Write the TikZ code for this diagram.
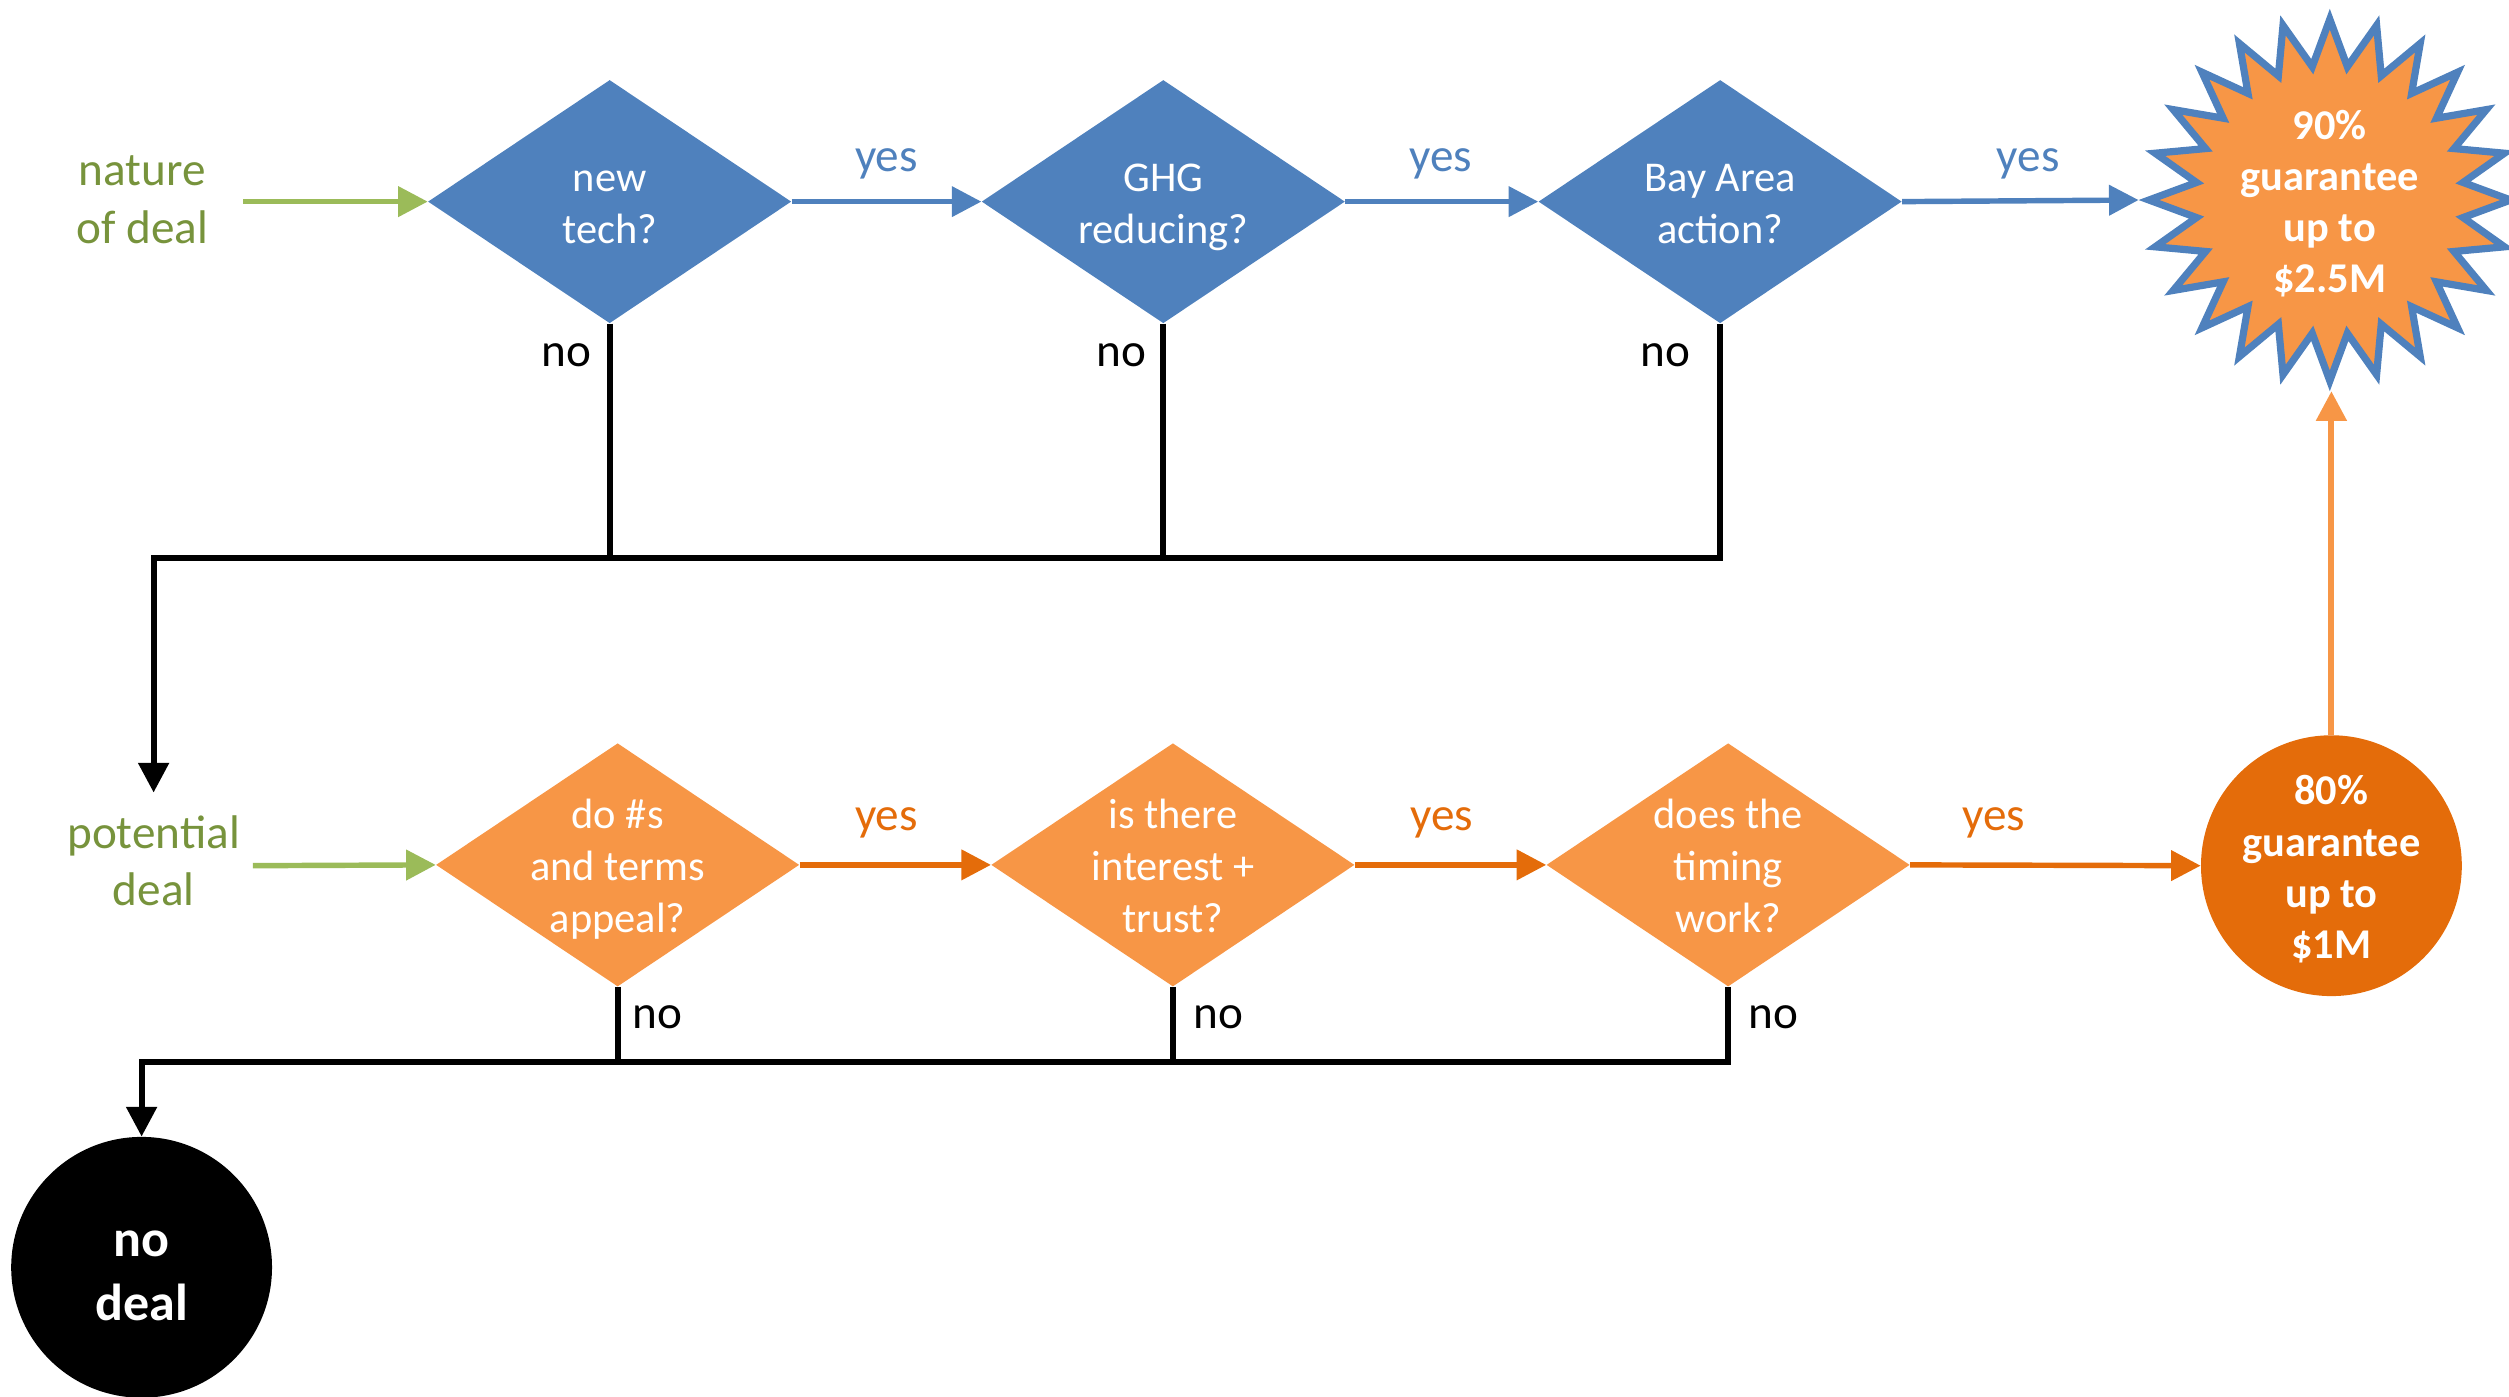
\documentclass[tikz,border=0pt]{standalone}
\usepackage{fontspec}
\setmainfont{Carlito}
\usetikzlibrary{shapes.geometric,arrows.meta}
\definecolor{cblue}{HTML}{4F81BD}
\definecolor{corange}{HTML}{F79646}
\definecolor{cdark}{HTML}{E46C0A}
\definecolor{cgreen}{HTML}{9BBB59}
\definecolor{cgtext}{HTML}{77933C}
\newcommand\fsz[2]{\fontsize{#1}{#2}\selectfont}
\begin{document}
\begin{tikzpicture}[x=1pt,y=-1pt,
  dia/.style={diamond, minimum width=227pt, minimum height=152pt, inner sep=0pt},
  bdia/.style={dia, fill=cblue},
  odia/.style={dia, fill=corange},
  qtext/.style={text=white, align=center, font=\fsz{26.5}{32.5}, inner sep=0pt, anchor=base},
  wbold/.style={text=white, align=center, font=\fsz{26.5}{32}\bfseries, inner sep=0pt, anchor=base},
  lbl/.style={font=\fsz{29.5}{36}, inner sep=0pt, anchor=base},
  gtext/.style={lbl, text=cgtext, align=center},
  tip/.style={-{Triangle[length=18.5pt,width=18.5pt]}},
  garrow/.style={tip, draw=cgreen, line width=3.4pt},
  barrow/.style={tip, draw=cblue, line width=3.4pt},
  oarrow/.style={tip, draw=cdark, line width=3.4pt},
  uparrow/.style={tip, draw=corange, line width=3.75pt},
  nline/.style={draw=black, line width=3.75pt},
]
\useasboundingbox (0,0) rectangle (1568,873);

% ---- top row ----
\node[gtext] (nd) at (89,152) {nature\\of deal};
\node[bdia] (d1) at (381,126) {};
\node[bdia] (d2) at (727,126) {};
\node[bdia] (d3) at (1075,126) {};
\node[qtext, yshift=-26pt] at (d1) {new\\tech?};
\node[qtext, yshift=-26pt] at (d2) {GHG\\reducing?};
\node[qtext, yshift=-26pt] at (d3) {Bay Area\\action?};

\node[star, star points=24, star point ratio=1.345, minimum size=226pt,
      inner sep=0pt, fill=corange, draw=cblue, line width=4.5pt] (star) at (1456,125) {};
\node[wbold, yshift=-58pt] at (star) {90\%\\guarantee\\up to\\\$2.5M};

% ---- bottom row ----
\node[gtext, inner ysep=14pt] (pd) at (96,566) {potential\\deal};
\node[odia] (d4) at (386,540.5) {};
\node[odia] (d5) at (733,540.5) {};
\node[odia] (d6) at (1080,540.5) {};
\node[qtext, yshift=-42pt] at (d4) {do \#s\\and terms\\appeal?};
\node[qtext, yshift=-42pt] at (d5) {is there\\interest +\\trust?};
\node[qtext, yshift=-42pt] at (d6) {does the\\timing\\work?};

\node[circle, fill=cdark, minimum size=163pt, inner sep=0pt] (c80) at (1457,541) {};
\node[wbold, yshift=-58pt] at (c80) {80\%\\guarantee\\up to\\\$1M};

\node[circle, fill=black, minimum size=163pt, inner sep=0pt] (nodeal) at (88.5,792) {};
\node[text=white, font=\fsz{32.5}{40}\bfseries, align=center, inner sep=0pt, anchor=base, yshift=-33pt] at (nodeal) {no\\deal};

% ---- helper coordinates ----
\coordinate (s1) at (152,126);
\coordinate (s2) at (158,541);
\coordinate (j1) at (96,349);
\coordinate (j2) at (88.5,663.7);

% ---- connectors top ----
\draw[garrow] (s1) -- (d1.west);
\draw[barrow] (d1.east) -- (d2.west);
\draw[barrow] (d2.east) -- (d3.west);
\draw[barrow] (d3.east) -- (star.west);
\draw[nline] (d1.south) -- (d1.south |- j1);
\draw[nline] (d2.south) -- (d2.south |- j1);
\draw[nline, tip] (d3.south) |- (j1) -- (pd.north);

% ---- connectors bottom ----
\draw[garrow] (s2) -- (d4.west);
\draw[oarrow] (d4.east) -- (d5.west);
\draw[oarrow] (d5.east) -- (d6.west);
\draw[oarrow] (d6.east) -- (c80.west);
\draw[uparrow] (c80.north) -- (c80.north |- star.south);
\draw[nline] (d4.south) -- (d4.south |- j2);
\draw[nline] (d5.south) -- (d5.south |- j2);
\draw[nline, tip] (d6.south) |- (j2) -- (nodeal.north);

% ---- labels ----
\node[lbl, text=cblue] at (554,107) {yes};
\node[lbl, text=cblue] at (900.5,107) {yes};
\node[lbl, text=cblue] at (1267.5,107) {yes};
\node[lbl, text=cdark] at (554,519) {yes};
\node[lbl, text=cdark] at (901,519) {yes};
\node[lbl, text=cdark] at (1246,519) {yes};
\node[lbl] at (354,229) {no};
\node[lbl] at (701,229) {no};
\node[lbl] at (1041,229) {no};
\node[lbl] at (411,643) {no};
\node[lbl] at (761.5,643) {no};
\node[lbl] at (1108.5,643) {no};
\end{tikzpicture}
\end{document}
